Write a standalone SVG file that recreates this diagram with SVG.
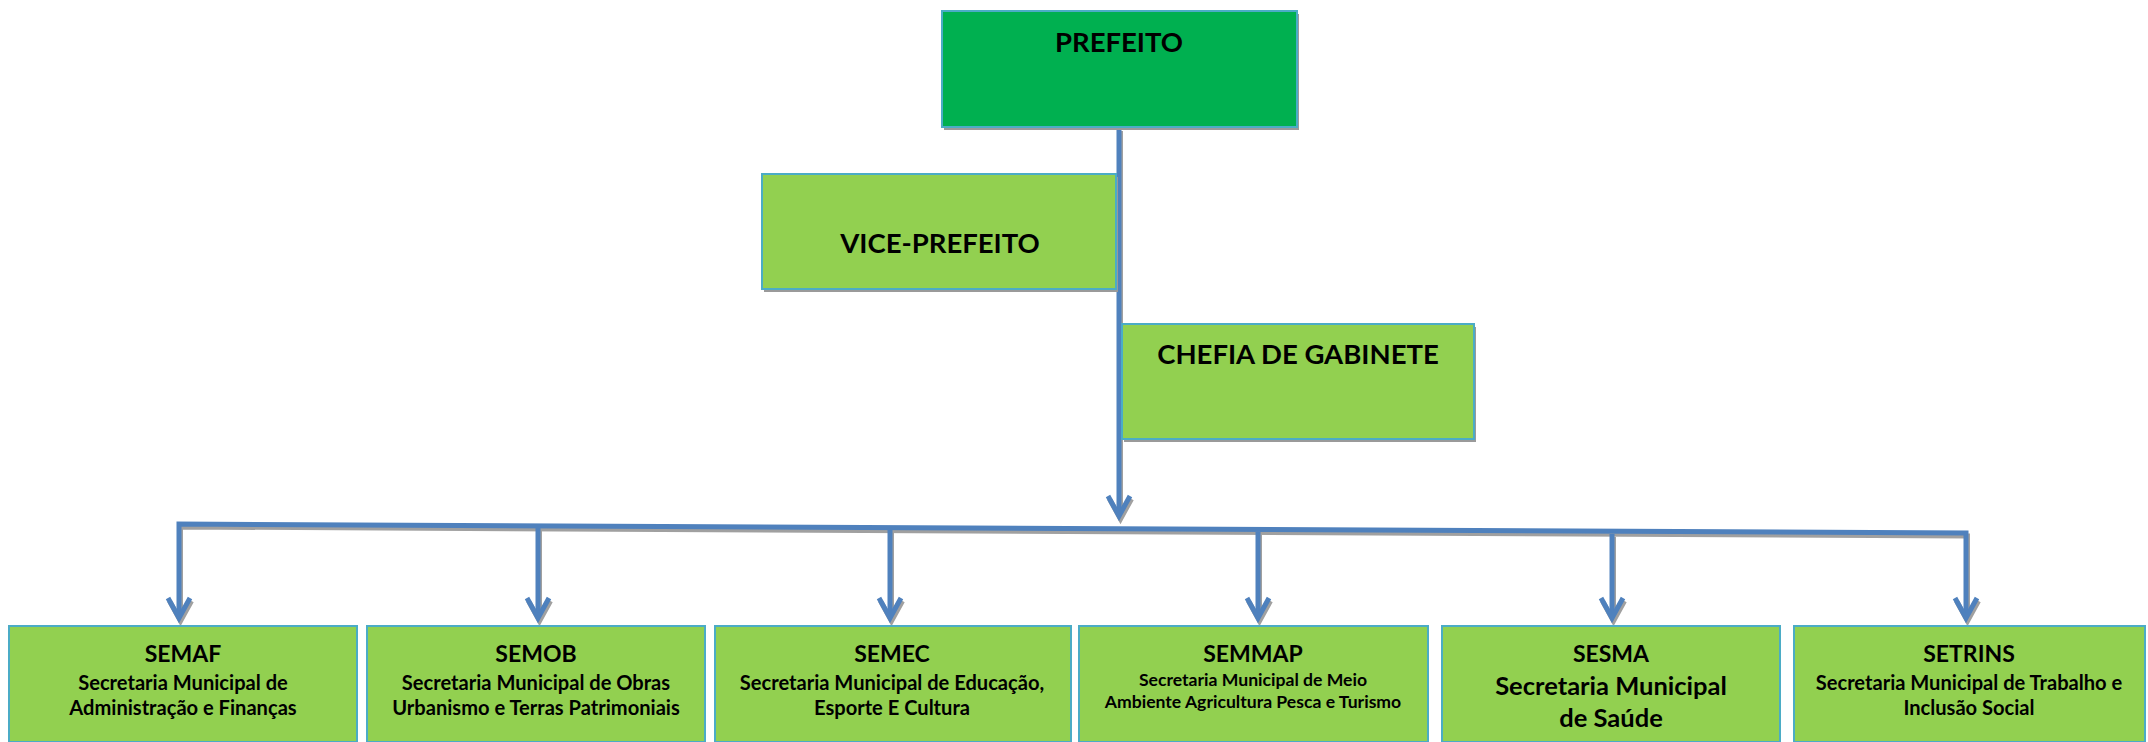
<svg xmlns="http://www.w3.org/2000/svg" xmlns:xlink="http://www.w3.org/1999/xlink" width="2148" height="742" viewBox="0 0 2148 742">
<style>
.box{fill:#92D050;stroke:#4BACC6;stroke-width:2}
.boxd{fill:#00B050;stroke:#4BACC6;stroke-width:2}
.sh{fill:#9A9A9A}
.t{font-family:Lato,"Liberation Sans",sans-serif;font-weight:bold;fill:#000;text-anchor:middle}
.big{font-size:27.5px}
.h{font-size:23px}
.hm{font-size:25.5px}
.d{font-size:20.1px}
.s{font-size:17.6px}
.cl{fill:none;stroke:#4F81BD;stroke-width:5;stroke-linejoin:miter}
.cs{fill:none;stroke:#A0A0A0;stroke-width:5;stroke-linejoin:miter}
</style>
<defs>
<g id="wires">
<path d="M1119,128 V514"/>
<path d="M1108,496 L1119,516 L1130,496"/>
<path d="M179,616 V524 L1966,533 V616"/>
<path d="M538,528 V616"/>
<path d="M890,530 V616"/>
<path d="M1258,532 V616"/>
<path d="M1612,534 V616"/>
<path d="M168,598 L179,618 L190,598"/>
<path d="M527,598 L538,618 L549,598"/>
<path d="M879,598 L890,618 L901,598"/>
<path d="M1247,598 L1258,618 L1269,598"/>
<path d="M1601,598 L1612,618 L1623,598"/>
<path d="M1955,598 L1966,618 L1977,598"/>
</g>
</defs>
<g id="connectors">
<use xlink:href="#wires" class="cs" transform="translate(1.5,3)"/>
<use xlink:href="#wires" class="cl"/>
</g>
<g id="prefeito">
<rect class="sh" x="944" y="14" width="355" height="116"/>
<rect class="boxd" x="942" y="11" width="355" height="116"/>
<text class="t big" x="1119" y="52">PREFEITO</text>
</g>
<g id="vice-prefeito">
<rect class="sh" x="764" y="177" width="354" height="115"/>
<rect class="box" x="762" y="174" width="354" height="115"/>
<text class="t big" x="940" y="253">VICE-PREFEITO</text>
</g>
<g id="chefia-gabinete">
<rect class="sh" x="1124" y="327" width="352" height="115"/>
<rect class="box" x="1122" y="324" width="352" height="115"/>
<text class="t big" x="1298" y="364">CHEFIA DE GABINETE</text>
</g>
<g id="semaf">
<rect class="box" x="9" y="626" width="348" height="116"/>
<text class="t h" x="183" y="662">SEMAF</text>
<text class="t d" x="183" y="690">Secretaria Municipal de</text>
<text class="t d" x="183" y="715">Administração e Finanças</text>
</g>
<g id="semob">
<rect class="box" x="367" y="626" width="338" height="116"/>
<text class="t h" x="536" y="662">SEMOB</text>
<text class="t d" x="536" y="690">Secretaria Municipal de Obras</text>
<text class="t d" x="536" y="715">Urbanismo e Terras Patrimoniais</text>
</g>
<g id="semec">
<rect class="box" x="715" y="626" width="356" height="116"/>
<text class="t h" x="892" y="662">SEMEC</text>
<text class="t d" x="892" y="690">Secretaria Municipal de Educação,</text>
<text class="t d" x="892" y="715">Esporte E Cultura</text>
</g>
<g id="semmap">
<rect class="box" x="1079" y="626" width="349" height="116"/>
<text class="t h" x="1253" y="662">SEMMAP</text>
<text class="t s" x="1253" y="686">Secretaria Municipal de Meio</text>
<text class="t s" x="1253" y="708">Ambiente Agricultura Pesca e Turismo</text>
</g>
<g id="sesma">
<rect class="box" x="1442" y="626" width="338" height="116"/>
<text class="t h" x="1611" y="662">SESMA</text>
<text class="t hm" x="1611" y="695">Secretaria Municipal</text>
<text class="t hm" x="1611" y="727">de Saúde</text>
</g>
<g id="setrins">
<rect class="box" x="1794" y="626" width="351" height="116"/>
<text class="t h" x="1969" y="662">SETRINS</text>
<text class="t d" x="1969" y="690">Secretaria Municipal de Trabalho e</text>
<text class="t d" x="1969" y="715">Inclusão Social</text>
</g>
</svg>
